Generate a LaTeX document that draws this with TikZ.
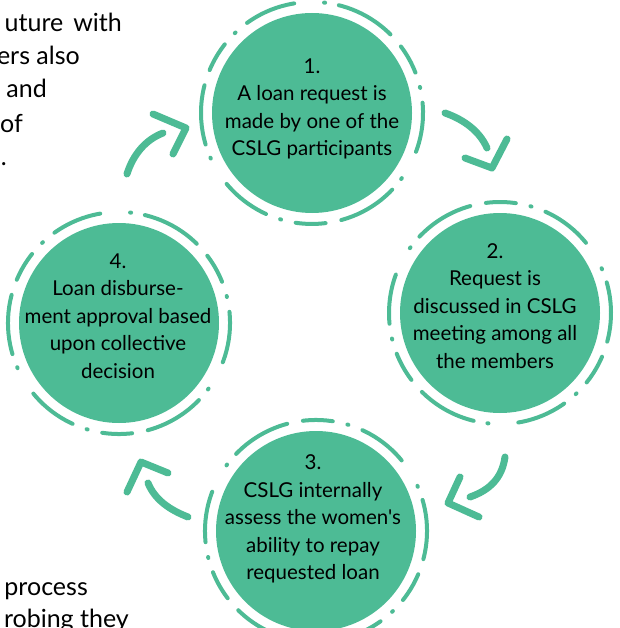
\documentclass[tikz,border=0pt]{standalone}
\usepackage{fontspec}
\setmainfont{Lato}[Ligatures=TeXOff]
\definecolor{teal1}{RGB}{77,187,149}
\begin{document}
\begin{tikzpicture}[x=1pt,y=-1pt,
  stepcircle/.style={circle,fill=teal1,minimum size=200pt,inner sep=0pt},
  steptext/.style={align=center,font=\fontsize{20.5}{27.5}\selectfont,text=black},
  ring/.style={draw=teal1,line width=4pt,line cap=round,
    dash pattern=on 50pt off 15pt on 1pt off 15pt on 30pt off 16pt on 60pt off 14pt on 1pt off 30pt},
  stroke/.style={draw=teal1,line width=7pt,line cap=round,line join=round},
  pagetext/.style={font=\fontsize{25}{30}\selectfont,text=black,inner sep=0pt}]
\useasboundingbox (0,0) rectangle (619,628);
\begin{scope}
\clip (0,0) rectangle (619,628);
% circles
\node[stepcircle] (c1) at (312,113) {};
\node[stepcircle] (c2) at (500,313) {};
\node[stepcircle] (c3) at (316,531) {};
\node[stepcircle] (c4) at (119,323) {};
% dashed rings
\draw[ring,rotate around={100:(c1)}] (c1) circle (111pt);
\draw[ring,rotate around={40:(c2)}] (c2) circle (111pt);
\draw[ring,rotate around={160:(c3)}] (c3) circle (111pt);
\draw[ring,rotate around={-20:(c4)}] (c4) circle (111pt);
% texts
\node[steptext] (t1) at (312,109) {1.\\A loan request is\\made by one of the\\CSLG participants};
\node[steptext] (t2) at (495,306) {2.\\Request is\\discussed in CSLG\\meeting among all\\the members};
\node[steptext] (t3) at (313,519) {3.\\CSLG internally\\assess the women's\\ability to repay\\requested loan};
\node[steptext] (t4) at (118,316) {4.\\Loan disburse-\\ment approval based\\upon collective\\decision};
% arrows
\coordinate (a1s) at (445,113); \coordinate (a1e) at (487,148);
\coordinate (a1l) at (465,158); \coordinate (a1t) at (492,168); \coordinate (a1r) at (507,139);
\draw[stroke] (a1s) .. controls (465,120) and (480,132) .. (a1e);
\draw[stroke] (a1l) -- (a1t) -- (a1r);
\coordinate (a2s) at (505,457); \coordinate (a2e) at (470,497);
\coordinate (a2l) at (460,477); \coordinate (a2t) at (448,503); \coordinate (a2r) at (479,517);
\draw[stroke] (a2s) .. controls (502,478) and (490,490) .. (a2e);
\draw[stroke] (a2l) -- (a2t) -- (a2r);
\coordinate (a3s) at (188,517); \coordinate (a3e) at (148,483);
\coordinate (a3l) at (127,492); \coordinate (a3t) at (141,462); \coordinate (a3r) at (168,473);
\draw[stroke] (a3s) .. controls (170,510) and (155,500) .. (a3e);
\draw[stroke] (a3l) -- (a3t) -- (a3r);
\coordinate (a4s) at (127,174); \coordinate (a4e) at (163,133);
\coordinate (a4l) at (153,114); \coordinate (a4t) at (186,128); \coordinate (a4r) at (173,154);
\draw[stroke] (a4s) .. controls (133,155) and (145,140) .. (a4e);
\draw[stroke] (a4l) -- (a4t) -- (a4r);
% page text fragments
\node[pagetext,anchor=base east] (p1) at (122,32) {uture\hskip10pt with};
\node[pagetext,anchor=base east] (p2) at (80,65) {ers also};
\node[pagetext,anchor=base east] (p3) at (47,98) {and};
\node[pagetext,anchor=base east] (p4) at (23,133) {of};
\node[pagetext,anchor=base east] (p5) at (7,166) {.};
\node[pagetext,anchor=base east] (p6) at (88,595) {process};
\node[pagetext,anchor=base east] (p7) at (129,627) {robing they};
\end{scope}
\end{tikzpicture}
\end{document}
